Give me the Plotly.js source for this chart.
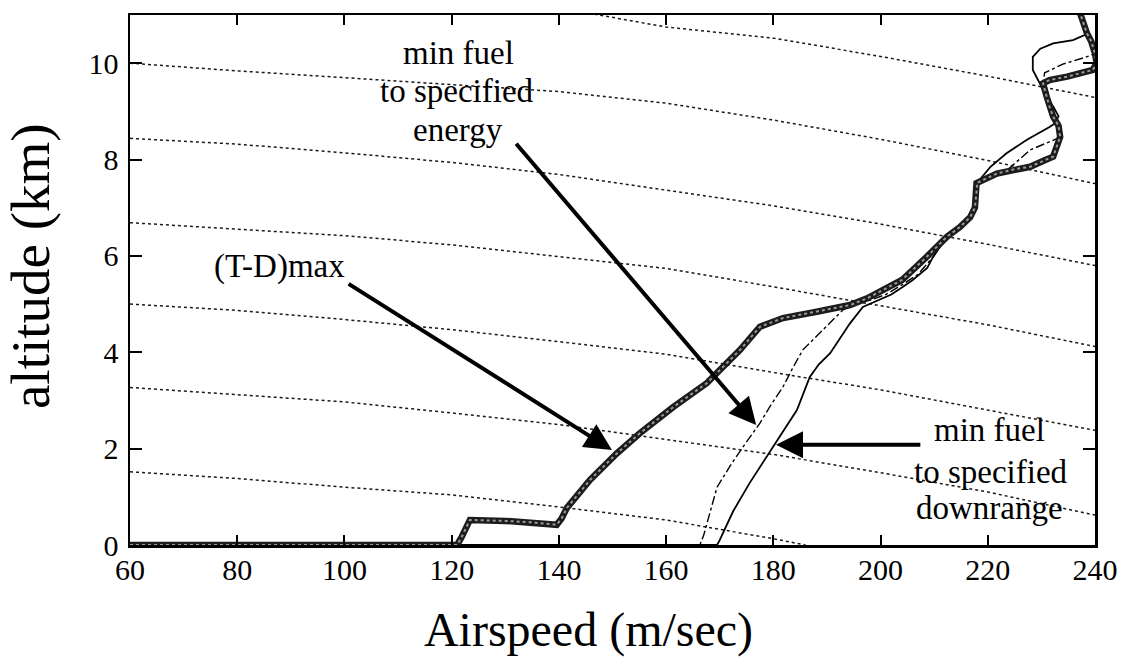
<!DOCTYPE html>
<html>
<head>
<meta charset="utf-8">
<script src="https://cdn.plot.ly/plotly-3.0.1.min.js"></script>
<style>
  html, body { margin: 0; padding: 0; background: #ffffff; }
  #chart { width: 1128px; height: 662px; }
</style>
</head>
<body>
<div id="chart"></div>
<script>
// ---- Energy-level reference lines (dotted) ----
const contourX = [60, 80, 100, 120, 140, 160, 180, 200, 220, 240];
const contour1 = [null, null, null, null, 11.15, 10.75, 10.52, 10.14, 9.73, 9.29];
const contour2 = [10.0, 9.84, 9.70, 9.56, 9.41, 9.17, 8.82, 8.42, 7.98, 7.50];
const contour3 = [8.44, 8.32, 8.14, 7.94, 7.69, 7.37, 7.04, 6.66, 6.24, 5.80];
const contour4 = [6.69, 6.56, 6.42, 6.23, 5.98, 5.74, 5.36, 4.97, 4.57, 4.12];
const contour5 = [5.00, 4.87, 4.68, 4.47, 4.22, 3.96, 3.58, 3.22, 2.80, 2.38];
const contour6 = [3.27, 3.12, 2.97, 2.74, 2.50, 2.19, 1.88, 1.50, 1.10, 0.62];
const contour7X = [60, 80, 100, 120, 140, 160, 180, 186];
const contour7 = [1.52, 1.38, 1.20, 1.04, 0.79, 0.52, 0.13, 0.0];

// ---- (T-D)max climb path ----
const tdX = [60, 121, 121.8, 122.6, 123.4, 130, 135, 139.6, 140.5, 141.5, 145.8, 150.8, 155.1, 161.3, 167.6, 173.8, 177.5, 181.8, 188.1, 194.3, 197.5, 204, 208.6, 212.4, 214.8, 216.7, 217.6, 218, 217.9, 221.7, 225, 227.9, 230.5, 232.2, 233.5, 233.2, 232.2, 231.5, 231, 230.3, 231.5, 234.8, 237.5, 239.6, 240.3, 240, 239.3, 238.5, 237.8, 237.2];
const tdY = [0, 0, 0.15, 0.35, 0.52, 0.5, 0.47, 0.42, 0.55, 0.77, 1.35, 1.9, 2.32, 2.86, 3.36, 4.05, 4.53, 4.71, 4.84, 4.98, 5.12, 5.5, 5.98, 6.4, 6.6, 6.8, 7.0, 7.43, 7.51, 7.71, 7.8, 7.85, 7.98, 8.06, 8.47, 8.7, 8.89, 9.1, 9.3, 9.58, 9.65, 9.72, 9.8, 9.86, 10.0, 10.2, 10.45, 10.62, 10.85, 11.04];

// ---- min fuel to specified energy (dash-dot) ----
const enX = [60, 166.3, 167, 168.2, 169.5, 172, 174.3, 177.5, 179.5, 181.8, 183.5, 185.5, 189.3, 193, 195.6, 198, 201, 204, 207, 209.8, 212.4, 214.8, 216.7, 217.6, 217.9, 220.5, 222.9, 227.9, 232.2, 233.5, 233.2, 232.2, 231, 230.3, 230.6, 234, 238.4, 240, 239.3, 238.5, 237.2];
const enY = [0, 0, 0.2, 0.7, 1.2, 1.65, 2.03, 2.53, 2.9, 3.28, 3.65, 4.05, 4.46, 4.88, 5.02, 5.08, 5.2, 5.4, 5.62, 5.98, 6.4, 6.6, 6.8, 7.0, 7.5, 7.62, 7.71, 8.2, 8.4, 8.47, 8.7, 8.88, 9.3, 9.58, 9.8, 9.98, 10.13, 10.2, 10.45, 10.62, 11.04];

// ---- min fuel to specified downrange (thin solid) ----
const drX = [60, 169.5, 170, 172.5, 175.6, 178, 180, 182, 184.4, 186.8, 188.5, 190.6, 192.5, 194.3, 196.7, 199.5, 202, 204.2, 206, 208.7, 209.8, 212.4, 214.8, 216.7, 217.6, 217.9, 220.5, 223.5, 227.3, 231.6, 232.5, 233.2, 232.2, 231, 229.7, 228.4, 228.4, 229.8, 232.2, 235.9, 238.8, 237.2];
const drY = [0, 0, 0.1, 0.7, 1.29, 1.7, 2.03, 2.4, 2.8, 3.49, 3.75, 3.98, 4.3, 4.6, 4.94, 5.08, 5.2, 5.36, 5.5, 5.75, 5.98, 6.4, 6.6, 6.8, 7.0, 7.5, 7.85, 8.13, 8.41, 8.68, 8.75, 8.9, 9.1, 9.3, 9.58, 9.86, 10.13, 10.3, 10.41, 10.48, 10.62, 11.04];

// ---- axis ticks ----
const xTicks = [60, 80, 100, 120, 140, 160, 180, 200, 220, 240];
const yTicks = [0, 2, 4, 6, 8, 10];

const serif = 'Liberation Serif, Times New Roman, Times, serif';

const contourStyle = {color: '#1a1a1a', width: 1.5, dash: 'dot'};
const contours = [
  [contourX, contour1], [contourX, contour2], [contourX, contour3],
  [contourX, contour4], [contourX, contour5], [contourX, contour6],
  [contour7X, contour7]
].map(([xs, ys]) => ({
  x: xs, y: ys, type: 'scatter', mode: 'lines',
  line: contourStyle, hoverinfo: 'skip', showlegend: false
}));

const traces = contours.concat([
  {x: enX, y: enY, type: 'scatter', mode: 'lines', name: 'min fuel to specified energy',
   line: {color: '#000', width: 1.4, dash: 'dashdot'}, showlegend: false},
  {x: drX, y: drY, type: 'scatter', mode: 'lines', name: 'min fuel to specified downrange',
   line: {color: '#000', width: 1.8}, showlegend: false},
  {x: tdX, y: tdY, type: 'scatter', mode: 'lines', name: '(T-D)max',
   line: {color: '#1c1c1c', width: 6.5}, showlegend: false},
  {x: tdX, y: tdY, type: 'scatter', mode: 'lines', hoverinfo: 'skip',
   line: {color: '#9a9a9a', width: 2, dash: 'dot'}, showlegend: false}
]);

const txt = (t, x, y) => ({
  text: t, x: x, y: y, xref: 'x', yref: 'y', showarrow: false,
  xanchor: 'center', yanchor: 'middle',
  font: {family: serif, size: 33, color: '#000'}
});
const arrow = (x, y, ax, ay) => ({
  text: '', x: x, y: y, ax: ax, ay: ay, xref: 'x', yref: 'y', axref: 'x', ayref: 'y',
  showarrow: true, arrowhead: 2, arrowsize: 1.35, arrowwidth: 4, arrowcolor: '#000', standoff: 0
});

const layout = {
  width: 1128, height: 662,
  margin: {l: 130, r: 33, t: 15, b: 117},
  paper_bgcolor: '#ffffff', plot_bgcolor: '#ffffff',
  showlegend: false,
  xaxis: {
    range: [60, 240], tickvals: xTicks, ticktext: xTicks.map(String),
    showline: true, linecolor: '#000', linewidth: 2.5, mirror: 'ticks',
    ticks: 'inside', ticklen: 10, tickwidth: 2, tickcolor: '#000',
    showgrid: false, zeroline: false,
    tickfont: {family: serif, size: 30, color: '#000'},
    ticklabelstandoff: -4,
    title: {text: 'Airspeed (m/sec)\u00a0\u00a0\u00a0\u00a0\u200b', font: {family: serif, size: 48, color: '#000'}, standoff: 28}
  },
  yaxis: {
    range: [0, 11], tickvals: yTicks, ticktext: yTicks.map(String),
    showline: true, linecolor: '#000', linewidth: 2.5, mirror: 'ticks',
    ticks: 'inside', ticklen: 12, tickwidth: 2, tickcolor: '#000',
    showgrid: false, zeroline: false,
    tickfont: {family: serif, size: 30, color: '#000'},
    ticklabelstandoff: 3,
    title: {text: '\u200b\u00a0\u00a0altitude (km)', font: {family: serif, size: 55, color: '#000'}, standoff: 30}
  },
  annotations: [
    txt('min fuel', 121.2, 10.21),
    txt('to specified', 121.0, 9.42),
    txt('energy', 121.2, 8.61),
    txt('(T-D)max', 87.8, 5.77),
    txt('min fuel', 220.4, 2.39),
    txt('to specified', 220.6, 1.52),
    txt('downrange', 220.4, 0.77),
    arrow(149.9, 1.97, 100.5, 5.44),
    arrow(176.8, 2.49, 131.8, 8.36),
    arrow(180.5, 2.08, 207.7, 2.08)
  ]
};

Plotly.newPlot('chart', traces, layout, {displayModeBar: false, staticPlot: true});
</script>
</body>
</html>
